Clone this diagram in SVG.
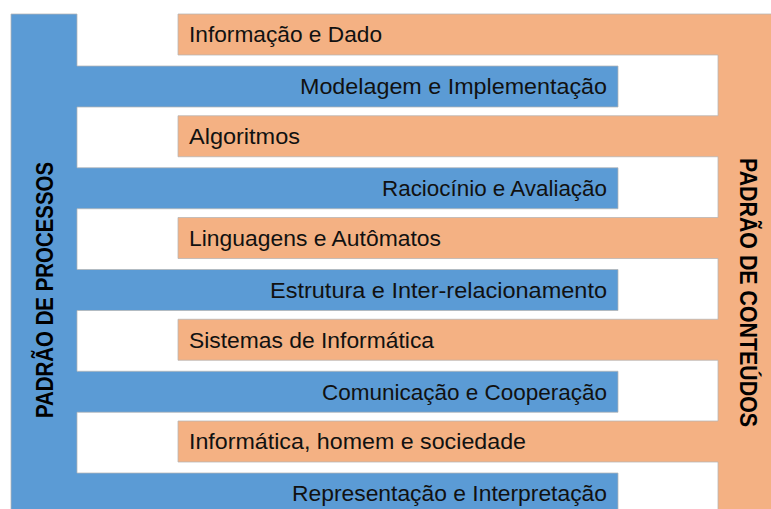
<svg xmlns="http://www.w3.org/2000/svg" width="771" height="509" viewBox="0 0 771 509">
<style>
.blue{fill:#5B9BD5;stroke:#b4b4b4;stroke-width:0.75}
.orange{fill:#F4B183;stroke:#b4b4b4;stroke-width:0.75}
.lbl{font-family:"Liberation Sans",Arial,sans-serif;font-size:22px;fill:#111}
.end{text-anchor:end}
.vt{font-family:"Liberation Sans",Arial,sans-serif;font-size:23px;font-weight:bold;fill:#000;text-anchor:middle}
</style>
<rect width="771" height="509" fill="#ffffff"/>
<g id="padrao-processos">
<path class="blue" d="M11,14 H77 V66 H618 V107 H77 V167.75 H618 V208.75 H77 V269.5 H618 V310.5 H77 V371.25 H618 V412.25 H77 V473 H618 V514 H11 Z"/>
<text class="vt" transform="translate(53,290) rotate(-90)" textLength="256" lengthAdjust="spacingAndGlyphs">PADRÃO DE PROCESSOS</text>
</g>
<g id="padrao-conteudos">
<path class="orange" d="M776,14 V514 H718 V462 H178 V421 H718 V360.25 H178 V319.25 H718 V258.5 H178 V217.5 H718 V156.75 H178 V115.75 H718 V55 H178 V14 Z"/>
<text class="vt" transform="translate(740,292.5) rotate(90)" textLength="269" lengthAdjust="spacingAndGlyphs">PADRÃO DE CONTEÚDOS</text>
</g>
<g id="c1"><text class="lbl" x="189" y="42.3" textLength="193" lengthAdjust="spacingAndGlyphs">Informação e Dado</text></g>
<g id="p1"><text class="lbl end" x="607" y="94.3" textLength="307" lengthAdjust="spacingAndGlyphs">Modelagem e Implementação</text></g>
<g id="c2"><text class="lbl" x="189" y="144" textLength="111" lengthAdjust="spacingAndGlyphs">Algoritmos</text></g>
<g id="p2"><text class="lbl end" x="607" y="196" textLength="225" lengthAdjust="spacingAndGlyphs">Raciocínio e Avaliação</text></g>
<g id="c3"><text class="lbl" x="189" y="245.8" textLength="252" lengthAdjust="spacingAndGlyphs">Linguagens e Autômatos</text></g>
<g id="p3"><text class="lbl end" x="607" y="297.8" textLength="337" lengthAdjust="spacingAndGlyphs">Estrutura e Inter-relacionamento</text></g>
<g id="c4"><text class="lbl" x="189" y="347.5" textLength="245" lengthAdjust="spacingAndGlyphs">Sistemas de Informática</text></g>
<g id="p4"><text class="lbl end" x="607" y="399.5" textLength="285" lengthAdjust="spacingAndGlyphs">Comunicação e Cooperação</text></g>
<g id="c5"><text class="lbl" x="189" y="449.3" textLength="337" lengthAdjust="spacingAndGlyphs">Informática, homem e sociedade</text></g>
<g id="p5"><text class="lbl end" x="607" y="501.3" textLength="315" lengthAdjust="spacingAndGlyphs">Representação e Interpretação</text></g>
<g id="connectors"></g>
</svg>
